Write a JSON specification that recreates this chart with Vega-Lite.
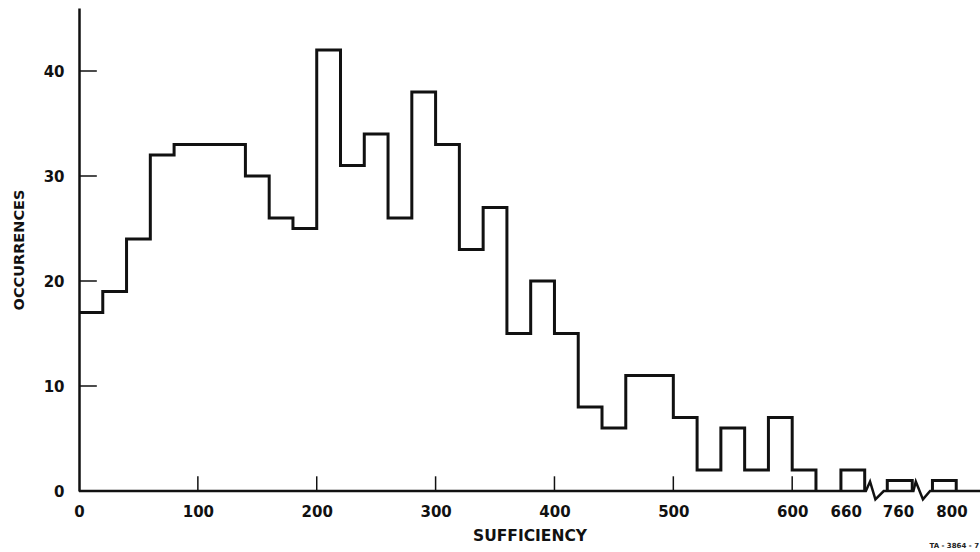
{
  "$schema": "https://vega.github.io/schema/vega-lite/v6.json",
  "width": 901,
  "height": 483,
  "autosize": {"type": "none"},
  "padding": {"left": 79, "top": 8, "right": 0, "bottom": 61},
  "background": "white",
  "config": {"view": {"stroke": null}, "font": "DejaVu Sans"},
  "title": {"text": "TA - 3864 - 7", "orient": "bottom", "anchor": "end", "frame": "group", "fontSize": 7, "fontWeight": "bold", "font": "DejaVu Sans", "color": "#222", "offset": -2, "dx": -1},
  "datasets": {
    "steps": [
      {"sufficiency": 0, "occurrences": 17, "series": "a", "i": 1},
      {"sufficiency": 20, "occurrences": 19, "series": "a", "i": 2},
      {"sufficiency": 40, "occurrences": 24, "series": "a", "i": 3},
      {"sufficiency": 60, "occurrences": 32, "series": "a", "i": 4},
      {"sufficiency": 80, "occurrences": 33, "series": "a", "i": 5},
      {"sufficiency": 100, "occurrences": 33, "series": "a", "i": 6},
      {"sufficiency": 120, "occurrences": 33, "series": "a", "i": 7},
      {"sufficiency": 140, "occurrences": 30, "series": "a", "i": 8},
      {"sufficiency": 160, "occurrences": 26, "series": "a", "i": 9},
      {"sufficiency": 180, "occurrences": 25, "series": "a", "i": 10},
      {"sufficiency": 200, "occurrences": 42, "series": "a", "i": 11},
      {"sufficiency": 220, "occurrences": 31, "series": "a", "i": 12},
      {"sufficiency": 240, "occurrences": 34, "series": "a", "i": 13},
      {"sufficiency": 260, "occurrences": 26, "series": "a", "i": 14},
      {"sufficiency": 280, "occurrences": 38, "series": "a", "i": 15},
      {"sufficiency": 300, "occurrences": 33, "series": "a", "i": 16},
      {"sufficiency": 320, "occurrences": 23, "series": "a", "i": 17},
      {"sufficiency": 340, "occurrences": 27, "series": "a", "i": 18},
      {"sufficiency": 360, "occurrences": 15, "series": "a", "i": 19},
      {"sufficiency": 380, "occurrences": 20, "series": "a", "i": 20},
      {"sufficiency": 400, "occurrences": 15, "series": "a", "i": 21},
      {"sufficiency": 420, "occurrences": 8, "series": "a", "i": 22},
      {"sufficiency": 440, "occurrences": 6, "series": "a", "i": 23},
      {"sufficiency": 460, "occurrences": 11, "series": "a", "i": 24},
      {"sufficiency": 480, "occurrences": 11, "series": "a", "i": 25},
      {"sufficiency": 500, "occurrences": 7, "series": "a", "i": 26},
      {"sufficiency": 520, "occurrences": 2, "series": "a", "i": 27},
      {"sufficiency": 540, "occurrences": 6, "series": "a", "i": 28},
      {"sufficiency": 560, "occurrences": 2, "series": "a", "i": 29},
      {"sufficiency": 580, "occurrences": 7, "series": "a", "i": 30},
      {"sufficiency": 600, "occurrences": 2, "series": "a", "i": 31},
      {"sufficiency": 620, "occurrences": 0, "series": "a", "i": 32},
      {"sufficiency": 641, "occurrences": 0, "series": "b", "i": 1},
      {"sufficiency": 641, "occurrences": 2, "series": "b", "i": 2},
      {"sufficiency": 661, "occurrences": 0, "series": "b", "i": 3},
      {"sufficiency": 680, "occurrences": 0, "series": "c", "i": 1},
      {"sufficiency": 680, "occurrences": 1, "series": "c", "i": 2},
      {"sufficiency": 701, "occurrences": 0, "series": "c", "i": 3},
      {"sufficiency": 718, "occurrences": 0, "series": "d", "i": 1},
      {"sufficiency": 718, "occurrences": 1, "series": "d", "i": 2},
      {"sufficiency": 738, "occurrences": 0, "series": "d", "i": 3}
    ],
    "baseline": [
      {"sufficiency": 0, "occurrences": 0, "i": 1},
      {"sufficiency": 662, "occurrences": 0, "i": 2},
      {"sufficiency": 665.5, "occurrences": 0.9, "i": 3},
      {"sufficiency": 670, "occurrences": -0.8, "i": 4},
      {"sufficiency": 677, "occurrences": 0, "i": 5},
      {"sufficiency": 702, "occurrences": 0, "i": 6},
      {"sufficiency": 704, "occurrences": 0.9, "i": 7},
      {"sufficiency": 710, "occurrences": -0.8, "i": 8},
      {"sufficiency": 716, "occurrences": 0, "i": 9},
      {"sufficiency": 758, "occurrences": 0, "i": 10}
    ],
    "xticks": [
      {"sufficiency": 100, "occurrences": 0, "top": 1.4},
      {"sufficiency": 200, "occurrences": 0, "top": 1.4},
      {"sufficiency": 300, "occurrences": 0, "top": 1.4},
      {"sufficiency": 400, "occurrences": 0, "top": 1.4},
      {"sufficiency": 500, "occurrences": 0, "top": 1.4},
      {"sufficiency": 600, "occurrences": 0, "top": 1.4}
    ],
    "yticks": [
      {"sufficiency": 0, "occurrences": 10, "right": 15},
      {"sufficiency": 0, "occurrences": 20, "right": 15},
      {"sufficiency": 0, "occurrences": 30, "right": 15},
      {"sufficiency": 0, "occurrences": 40, "right": 15}
    ]
  },
  "encoding": {
    "x": {
      "field": "sufficiency",
      "type": "quantitative",
      "scale": {"domain": [0, 758], "nice": false, "zero": false},
      "axis": {
        "title": "SUFFICIENCY",
        "values": [0, 100, 200, 300, 400, 500, 600, 645, 689, 734],
        "labelExpr": "datum.value == 645 ? '660' : datum.value == 689 ? '760' : datum.value == 734 ? '800' : datum.label",
        "domain": false,
        "grid": false,
        "ticks": false,
        "labelPadding": 13,
        "labelFlush": false,
        "labelOverlap": false,
        "labelFontSize": 15,
        "labelFontWeight": "bold",
        "labelColor": "#111",
        "titleFontSize": 15.5,
        "titleFontWeight": "bold",
        "titleColor": "#111",
        "titlePadding": 9
      }
    },
    "y": {
      "field": "occurrences",
      "type": "quantitative",
      "scale": {"domain": [0, 46], "nice": false},
      "axis": {
        "title": "OCCURRENCES",
        "values": [0, 10, 20, 30, 40],
        "grid": false,
        "domainColor": "#111",
        "domainWidth": 2.5,
        "ticks": false,
        "labelPadding": 15,
        "labelFontSize": 15,
        "labelFontWeight": "bold",
        "labelColor": "#111",
        "titleFontSize": 14.5,
        "titleFontWeight": "bold",
        "titleColor": "#111",
        "titlePadding": 17
      }
    },
    "order": {"field": "i", "type": "quantitative"}
  },
  "layer": [
    {
      "data": {"name": "xticks"},
      "mark": {"type": "rule", "stroke": "#111", "strokeWidth": 1.5},
      "encoding": {"y2": {"field": "top"}, "order": null}
    },
    {
      "data": {"name": "yticks"},
      "mark": {"type": "rule", "stroke": "#111", "strokeWidth": 1.5},
      "encoding": {"x2": {"field": "right"}, "order": null}
    },
    {
      "data": {"name": "baseline"},
      "mark": {"type": "line", "stroke": "#111", "strokeWidth": 2.5, "strokeJoin": "miter"}
    },
    {
      "data": {"name": "steps"},
      "mark": {"type": "line", "interpolate": "step-after", "stroke": "#111", "strokeWidth": 3, "strokeJoin": "miter"},
      "encoding": {"detail": {"field": "series", "type": "nominal"}}
    }
  ]
}
